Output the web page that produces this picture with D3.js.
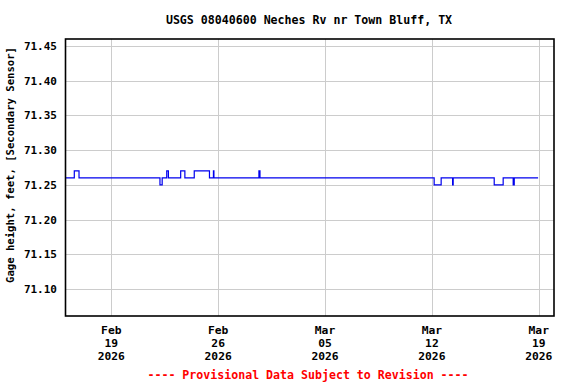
<!DOCTYPE html>
<html>
<head>
<meta charset="utf-8">
<script src="https://cdn.jsdelivr.net/npm/d3@7"></script>
<style>
  html, body { margin: 0; padding: 0; background: #fff; }
  svg { display: block; }
</style>
</head>
<body>
<div id="chart"></div>
<script>
// Step change points (UTC-free, treated as plain clock time)
const stepTimes = [
  '2026-02-16T00:00', '2026-02-16T13:50', '2026-02-16T21:15',
  '2026-02-22T04:30', '2026-02-22T08:00', '2026-02-22T15:10', '2026-02-22T17:45',
  '2026-02-23T13:05', '2026-02-23T19:40',
  '2026-02-24T10:25', '2026-02-25T10:20', '2026-02-25T16:35', '2026-02-25T17:20',
  '2026-02-28T16:05', '2026-02-28T17:45',
  '2026-03-12T03:35', '2026-03-12T14:35',
  '2026-03-13T08:35', '2026-03-13T09:30',
  '2026-03-16T02:00', '2026-03-16T16:05',
  '2026-03-17T07:50', '2026-03-17T09:30',
  '2026-03-18T23:00'
];
const stepValues = [
  71.26, 71.27, 71.26,
  71.25, 71.26, 71.27, 71.26,
  71.27, 71.26,
  71.27, 71.26, 71.27, 71.26,
  71.27, 71.26,
  71.25, 71.26,
  71.25, 71.26,
  71.25, 71.26,
  71.25, 71.26,
  71.26
];
const xTickDates = ['2026-02-19', '2026-02-26', '2026-03-05', '2026-03-12', '2026-03-19'];
const yTickValues = [71.10, 71.15, 71.20, 71.25, 71.30, 71.35, 71.40, 71.45];

const titleText = 'USGS 08040600 Neches Rv nr Town Bluff, TX';
const yLabelText = 'Gage height, feet, [Secondary Sensor]';
const footerText = '---- Provisional Data Subject to Revision ----';

const width = 576, height = 384;
const margin = { left: 65.5, right: 22, top: 39, bottom: 68 };
const plotRight = width - margin.right;
const plotBottom = height - margin.bottom;

const parseTime = d3.utcParse('%Y-%m-%dT%H:%M');
const parseDay = d3.utcParse('%Y-%m-%d');

const data = stepTimes.map((t, i) => ({ t: parseTime(t), v: stepValues[i] }));

const x = d3.scaleUtc()
  .domain([parseDay('2026-02-16'), parseDay('2026-03-20')])
  .range([margin.left, plotRight]);

const y = d3.scaleLinear()
  .domain([71.061, 71.46])
  .range([plotBottom, margin.top]);

const font = "'DejaVu Sans Mono', 'Liberation Mono', monospace";

const svg = d3.select('#chart').append('svg')
  .attr('width', width)
  .attr('height', height)
  .style('font-family', font);

// Title
svg.append('text')
  .attr('x', 309)
  .attr('y', 24)
  .attr('text-anchor', 'middle')
  .attr('font-size', 11.6)
  .attr('font-weight', 'bold')
  .attr('fill', '#000')
  .text(titleText);

// Gridlines
const grid = svg.append('g')
  .attr('stroke', '#cccccc')
  .attr('stroke-width', 1)
  .attr('shape-rendering', 'crispEdges');

grid.selectAll('line.h')
  .data(yTickValues)
  .join('line')
  .attr('class', 'h')
  .attr('x1', margin.left)
  .attr('x2', plotRight)
  .attr('y1', d => Math.round(y(d)) + 0.5)
  .attr('y2', d => Math.round(y(d)) + 0.5);

grid.selectAll('line.v')
  .data(xTickDates.map(parseDay))
  .join('line')
  .attr('class', 'v')
  .attr('y1', margin.top)
  .attr('y2', plotBottom)
  .attr('x1', d => Math.round(x(d)) + 0.5)
  .attr('x2', d => Math.round(x(d)) + 0.5);

// Data line
const line = d3.line()
  .x(d => x(d.t))
  .y(d => y(d.v))
  .curve(d3.curveStepAfter);

svg.append('path')
  .datum(data)
  .attr('d', line)
  .attr('fill', 'none')
  .attr('stroke', '#0000ee')
  .attr('stroke-width', 1.2);

// Frame
svg.append('rect')
  .attr('x', margin.left)
  .attr('y', margin.top)
  .attr('width', plotRight - margin.left)
  .attr('height', plotBottom - margin.top)
  .attr('fill', 'none')
  .attr('stroke', '#000')
  .attr('stroke-width', 1.6);

// Y tick labels
svg.append('g')
  .selectAll('text')
  .data(yTickValues)
  .join('text')
  .attr('x', 57)
  .attr('y', d => y(d) + 4)
  .attr('text-anchor', 'end')
  .attr('font-size', 11)
  .attr('font-weight', 'bold')
  .attr('fill', '#000')
  .text(d => d.toFixed(2));

// X tick labels (three lines each)
const fmtMon = d3.utcFormat('%b');
const fmtDay = d3.utcFormat('%d');
const fmtYear = d3.utcFormat('%Y');

const xLabels = svg.append('g')
  .selectAll('g')
  .data(xTickDates.map(parseDay))
  .join('g')
  .attr('transform', d => `translate(${x(d)},0)`);

[[fmtMon, 334], [fmtDay, 347], [fmtYear, 360]].forEach(([fmt, yy]) => {
  xLabels.append('text')
    .attr('y', yy)
    .attr('text-anchor', 'middle')
    .attr('font-size', 11.3)
    .attr('font-weight', 'bold')
    .attr('fill', '#000')
    .text(d => fmt(d));
});

// Y axis label
svg.append('text')
  .attr('transform', 'translate(14,165) rotate(-90)')
  .attr('text-anchor', 'middle')
  .attr('font-size', 10.6)
  .attr('font-weight', 'bold')
  .attr('fill', '#000')
  .text(yLabelText);

// Footer
svg.append('text')
  .attr('x', 308)
  .attr('y', 379)
  .attr('text-anchor', 'middle')
  .attr('font-size', 11.6)
  .attr('font-weight', 'bold')
  .attr('fill', '#ff0000')
  .text(footerText);
</script>
</body>
</html>
